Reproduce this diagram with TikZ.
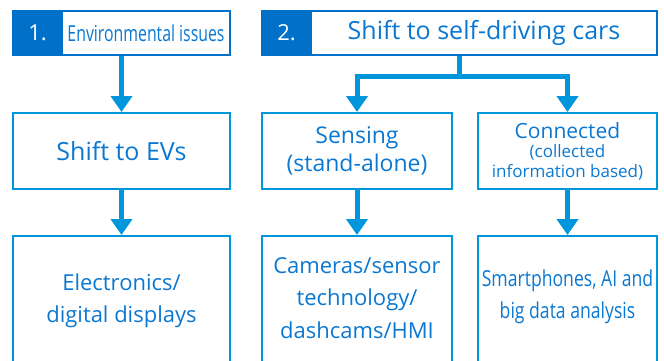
\documentclass[tikz,border=0pt]{standalone}
\usepackage{fontspec}
\setmainfont{Open Sans}
\usetikzlibrary{arrows.meta,calc}
\definecolor{dblue}{RGB}{0,112,200}
\definecolor{tblue}{RGB}{10,120,210}
\definecolor{lblue}{RGB}{0,150,220}
\tikzset{
  numbox/.style={fill=dblue,draw=dblue,line width=2pt,text=white,minimum height=44pt,inner sep=0pt,font=\fontsize{22}{24}\selectfont},
  hdrbox/.style={fill=white,draw=dblue,line width=2pt,text=tblue,minimum height=44pt,inner sep=0pt},
  midbox/.style={draw=lblue,line width=2pt,text=tblue,minimum height=76pt,inner sep=0pt,align=center},
  lowbox/.style={draw=lblue,line width=2pt,inner sep=0pt},
  lowtxt/.style={text=tblue,align=center,font=\fontsize{22}{32.5}\selectfont},
  flow/.style={draw=lblue,line width=5pt,-{Triangle[width=21pt,length=16pt]}},
  stem/.style={draw=lblue,line width=5pt}
}
\begin{document}
\begin{tikzpicture}[x=1pt,y=-1pt]
\useasboundingbox (0,0) rectangle (664,361);
\clip (0,0) rectangle (664,361);
% headers
\node[numbox,minimum width=49pt] (n1) at (37.5,33) {1.};
\node[hdrbox,minimum width=168pt,font=\fontsize{22}{24}\selectfont] (env) at (146,33) {\scalebox{0.72}[1]{Environmental issues}};
\node[numbox,minimum width=49pt] (n2) at (286.5,33) {2.};
\node[hdrbox,minimum width=346pt,font=\fontsize{25}{27}\selectfont] (self) at (484,33) {Shift to self-driving cars};
% middle row
\node[midbox,minimum width=217pt,font=\fontsize{25}{27}\selectfont] (evs) at (121.5,151) {Shift to EVs};
\node[midbox,minimum width=190pt,font=\fontsize{23}{28}\selectfont] (sens) at (357,151) {Sensing\\(stand-alone)};
\node[midbox,minimum width=179pt,font=\fontsize{17}{19.5}\selectfont] (conn) at (567.5,151) {{\fontsize{21}{21}\selectfont Connected}\\(collected\\information based)};
% bottom row
\node[lowbox,minimum width=217pt,minimum height=140pt,anchor=north] (elec) at (121.5,235) {};
\node[lowbox,minimum width=190pt,minimum height=140pt,anchor=north] (cam) at (357,235) {};
\node[lowbox,minimum width=179pt,minimum height=140pt,anchor=north] (smart) at (567.5,235) {};
\node[lowtxt] (elect) at (121.5,301) {Electronics/\\digital displays};
\node[lowtxt] (camt) at (357,298) {Cameras/sensor\\technology/\\dashcams/HMI};
\node[lowtxt] (smartt) at (567.5,297) {\scalebox{0.8}[1]{Smartphones, AI and}\\\scalebox{0.8}[1]{big data analysis}};
% connectors
\draw[flow] (evs.north |- env.south) -- (evs.north);
\coordinate (split) at ($(n2.south west)!0.5!(self.south east)$);
\coordinate (bar) at ($(split)+(0,21)$);
\draw[stem] (split) -- (bar);
\draw[flow] (sens.north |- bar) -- (sens.north);
\draw[flow] (conn.north |- bar) -- (conn.north);
\draw[stem] ([xshift=-2.5pt]sens.north |- bar) -- ([xshift=2.5pt]conn.north |- bar);
\draw[flow] (evs.south) -- (elec.north);
\draw[flow] (sens.south) -- (cam.north);
\draw[flow] (conn.south) -- (smart.north);
\end{tikzpicture}
\end{document}
